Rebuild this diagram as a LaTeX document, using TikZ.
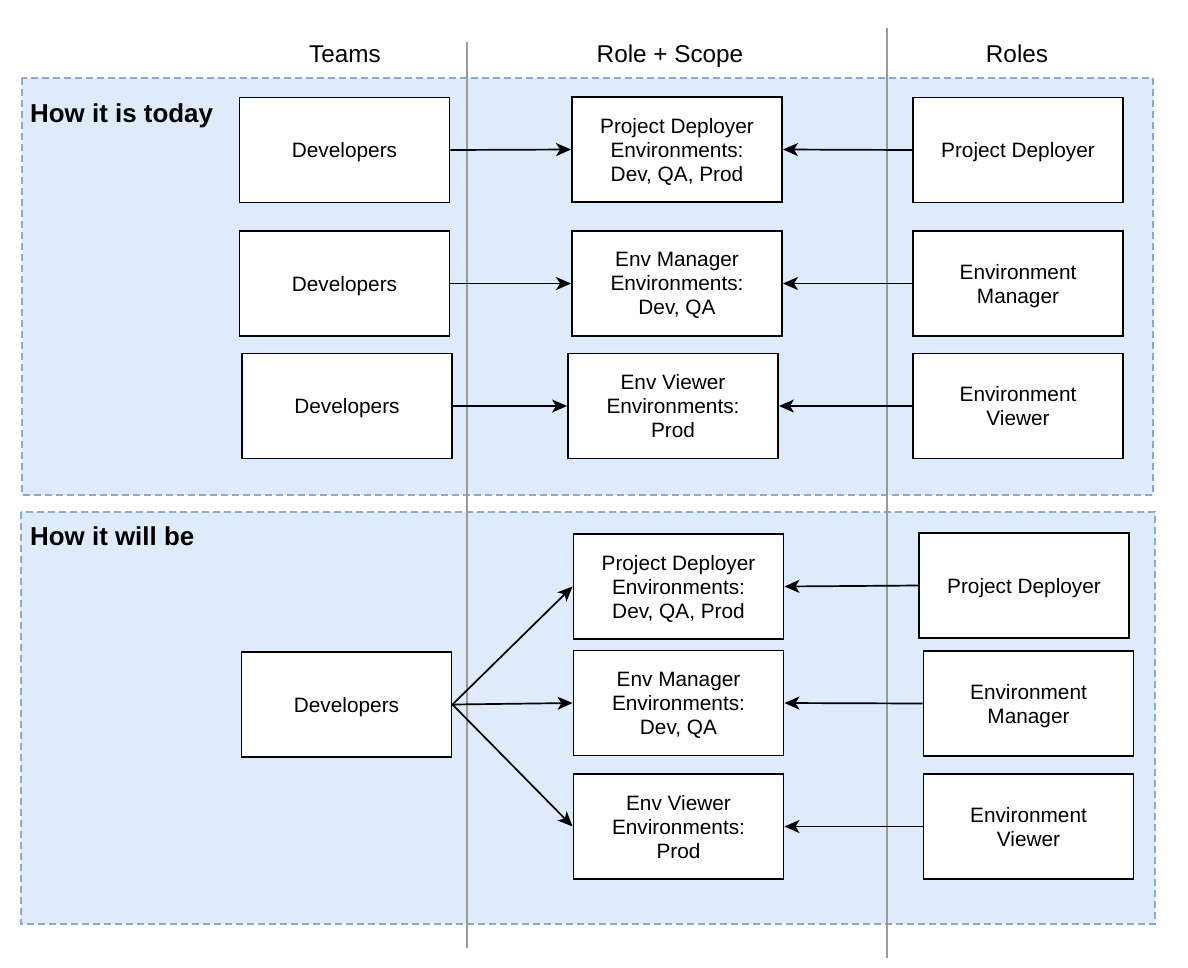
\documentclass[tikz,border=0pt]{standalone}
\usepackage{fontspec}
\setmainfont{Liberation Sans}
\usetikzlibrary{arrows.meta}
\definecolor{groupfill}{HTML}{DFEAFB}
\definecolor{groupline}{HTML}{8CA7D4}
\definecolor{colline}{HTML}{9A9A9A}

\begin{document}
\begin{tikzpicture}[x=1pt,y=-1pt]
        \tikzstyle{every node}+=[font=\fontsize{20.8}{24}\selectfont]
        \tikzstyle{box}=[draw=black,fill=white,line width=1.9pt,minimum width=210pt,minimum height=105pt,inner sep=0pt,align=center,text depth=-2.5pt]
        \tikzstyle{group}=[draw=groupline,fill=groupfill,line width=1.4pt,dash pattern=on 7pt off 4pt]
        \tikzstyle{link}=[draw=black,line width=1.7pt,-{Stealth[length=15pt,width=13pt,inset=4pt]}]
        \tikzstyle{head}=[anchor=base,font=\fontsize{24.3}{28}\selectfont]
        \tikzstyle{title}=[anchor=base west,inner sep=0pt,font=\fontsize{25.9}{30}\selectfont\bfseries]
        \useasboundingbox (0,0) rectangle (1188,967);
        \draw [group] (22,78) rectangle (1153,495);
        \draw [group] (21,512) rectangle (1155,924);
        \draw [colline,line width=1.4pt] (467,42) -- (467,948);
        \draw [colline,line width=1.4pt] (887,28) -- (887,958);
        \node [head] (teams) at (345,62) {Teams};
        \node [head] (scope) at (670,62) {Role + Scope};
        \node [head] (roles) at (1017,62) {Roles};
        \node [title] (today) at (30,122) {How it is today};
        \node [title] (willbe) at (30,545) {How it will be};
        \node [box] (devA) at (344.5,150) {Developers};
        \node [box] (scopeA) at (677,149.5) {Project Deployer\\Environments:\\Dev, QA, Prod};
        \node [box] (roleA) at (1018,150) {Project Deployer};
        \node [box] (devB) at (344.5,283.5) {Developers};
        \node [box] (scopeB) at (677,283.5) {Env Manager\\Environments:\\Dev, QA};
        \node [box] (roleB) at (1018,283.5) {Environment\\Manager};
        \node [box] (devC) at (347,406) {Developers};
        \node [box] (scopeC) at (673,406) {Env Viewer\\Environments:\\Prod};
        \node [box] (roleC) at (1018,406) {Environment\\Viewer};
        \node [box] (devD) at (346.5,704.5) {Developers};
        \node [box] (scopeD) at (678.5,586.5) {Project Deployer\\Environments:\\Dev, QA, Prod};
        \node [box] (scopeE) at (678.5,703) {Env Manager\\Environments:\\Dev, QA};
        \node [box] (scopeF) at (678.5,826.5) {Env Viewer\\Environments:\\Prod};
        \node [box] (roleD) at (1024,585.5) {Project Deployer};
        \node [box] (roleE) at (1028.5,703.5) {Environment\\Manager};
        \node [box] (roleF) at (1028.5,826.5) {Environment\\Viewer};
        \draw [link] (devA.east) -- (scopeA.west);
        \draw [link] (roleA.west) -- (scopeA.east);
        \draw [link] (devB.east) -- (scopeB.west);
        \draw [link] (roleB.west) -- (scopeB.east);
        \draw [link] (devC.east) -- (scopeC.west);
        \draw [link] (roleC.west) -- (scopeC.east);
        \draw [link] (devD.east) -- (scopeD.west);
        \draw [link] (devD.east) -- (scopeE.west);
        \draw [link] (devD.east) -- (scopeF.west);
        \draw [link] (roleD.west) -- (scopeD.east);
        \draw [link] (roleE.west) -- (scopeE.east);
        \draw [link] (roleF.west) -- (scopeF.east);
\end{tikzpicture}
\end{document}
